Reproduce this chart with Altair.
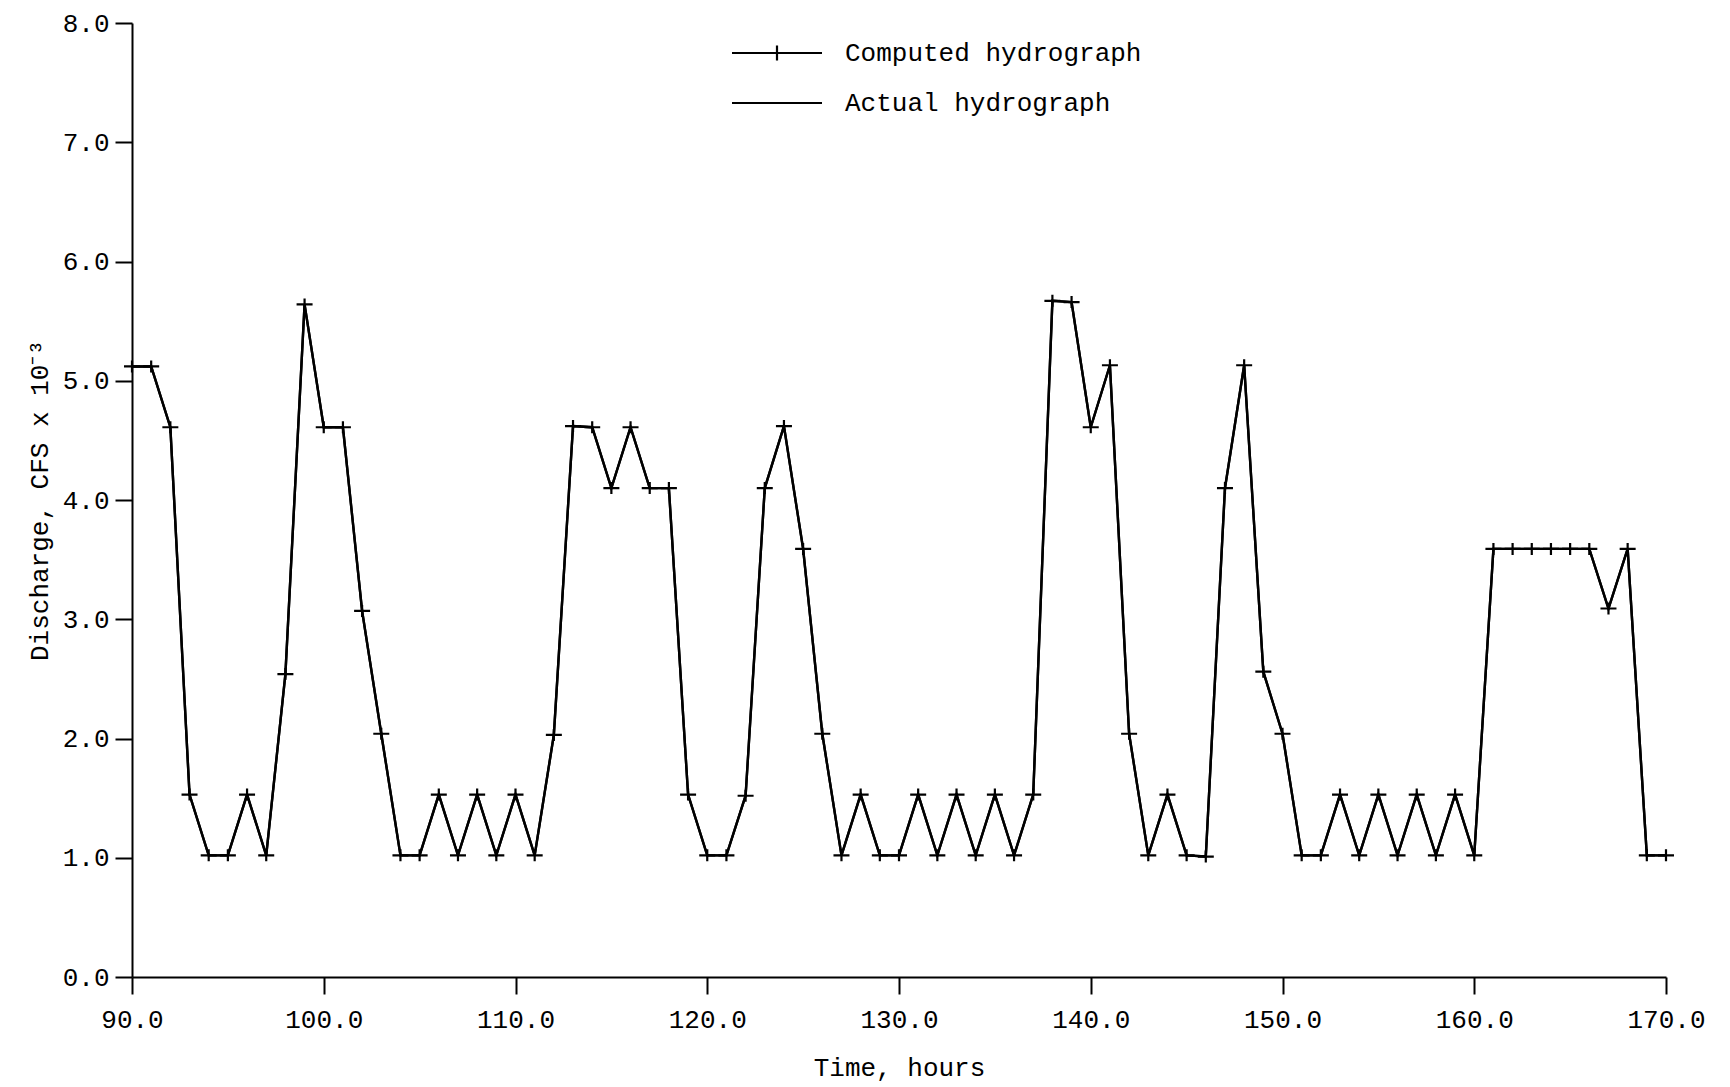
import altair as alt
import pandas as pd

# ---- data ----
hours = list(range(90, 171))

computed = [
    5.12, 5.12, 4.61, 1.53, 1.02, 1.02, 1.53, 1.02, 2.54, 5.64,   # 90-99
    4.61, 4.61, 3.07, 2.04, 1.02, 1.02, 1.53, 1.02, 1.53, 1.02,   # 100-109
    1.53, 1.02, 2.03, 4.62, 4.61, 4.10, 4.61, 4.10, 4.10, 1.53,   # 110-119
    1.02, 1.02, 1.52, 4.10, 4.62, 3.59, 2.04, 1.02, 1.53, 1.02,   # 120-129
    1.02, 1.53, 1.02, 1.53, 1.02, 1.53, 1.02, 1.53, 5.67, 5.66,   # 130-139
    4.61, 5.13, 2.04, 1.02, 1.53, 1.02, 1.01, 4.10, 5.13, 2.56,   # 140-149
    2.04, 1.02, 1.02, 1.53, 1.02, 1.53, 1.02, 1.53, 1.02, 1.53,   # 150-159
    1.02, 3.59, 3.59, 3.59, 3.59, 3.59, 3.59, 3.09, 3.59, 1.02,   # 160-169
    1.02,                                                         # 170
]

actual = [
    5.12, 5.12, 4.61, 1.53, 1.02, 1.02, 1.53, 1.02, 2.54, 5.64,
    4.61, 4.61, 3.07, 2.04, 1.02, 1.02, 1.53, 1.02, 1.53, 1.02,
    1.53, 1.02, 2.03, 4.62, 4.61, 4.10, 4.61, 4.10, 4.10, 1.53,
    1.02, 1.02, 1.52, 4.10, 4.62, 3.59, 2.04, 1.02, 1.53, 1.02,
    1.02, 1.53, 1.02, 1.53, 1.02, 1.53, 1.02, 1.53, 5.67, 5.66,
    4.61, 5.13, 2.04, 1.02, 1.53, 1.02, 1.01, 4.10, 5.13, 2.56,
    2.04, 1.02, 1.02, 1.53, 1.02, 1.53, 1.02, 1.53, 1.02, 1.53,
    1.02, 3.59, 3.59, 3.59, 3.59, 3.59, 3.59, 3.09, 3.59, 1.02,
    1.02,
]

series_names = ["Computed hydrograph", "Actual hydrograph"]
x_ticks = [90, 100, 110, 120, 130, 140, 150, 160, 170]
y_ticks = [0, 1, 2, 3, 4, 5, 6, 7, 8]

df = pd.concat([
    pd.DataFrame({"hour": hours, "q": computed, "series": series_names[0]}),
    pd.DataFrame({"hour": hours, "q": actual, "series": series_names[1]}),
])
df_comp = df[df["series"] == series_names[0]]

FONT = "Liberation Mono"

x_enc = alt.X("hour:Q",
              scale=alt.Scale(domain=[90, 170], nice=False, zero=False),
              axis=alt.Axis(values=x_ticks, format=".1f", title="Time, hours",
                            labelFlush=False,
                            labelPadding=12, titlePadding=22))
y_enc = alt.Y("q:Q",
              scale=alt.Scale(domain=[0, 8], nice=False),
              axis=alt.Axis(values=y_ticks, format=".1f",
                            title="Discharge, CFS x 10\u207b\u00b3",
                            labelFlush=False,
                            labelPadding=6, titlePadding=10))

lines = alt.Chart(df).mark_line(color="black", strokeWidth=2.4).encode(
    x=x_enc, y=y_enc, detail="series:N"
)

markers = alt.Chart(df_comp).mark_point(
    shape="M-1,0H1M0,-0.75V0.75", size=256, strokeWidth=2.2,
    color="black", filled=False, opacity=1
).encode(x="hour:Q", y="q:Q")

legend_layer = alt.Chart(df).mark_point(color="black", opacity=0, filled=False).encode(
    x="hour:Q", y="q:Q",
    shape=alt.Shape("series:N",
                    scale=alt.Scale(domain=series_names,
                                    range=["M-2,0H2M0,-0.33V0.33", "M-2,0H2"]),
                    legend=alt.Legend(title=None, orient="none",
                                      legendX=621, legendY=6,
                                      symbolSize=2025, symbolStrokeWidth=2.2,
                                      symbolStrokeColor="black",
                                      symbolFillColor="transparent",
                                      symbolOpacity=1,
                                      labelOffset=44, rowPadding=13, padding=0,
                                      labelFont=FONT, labelFontSize=26,
                                      labelColor="black", labelLimit=600))
)

chart = alt.layer(lines, markers, legend_layer).properties(
    width=1534, height=954,
    padding={"left": 132, "top": 23, "right": 64, "bottom": 110},
    autosize=alt.AutoSizeParams(type="none"),
    background="white",
).configure_axis(
    grid=False,
    domainColor="black", domainWidth=2,
    tickColor="black", tickWidth=2, tickSize=17,
    labelFont=FONT, labelFontSize=26, labelColor="black",
    titleFont=FONT, titleFontSize=26, titleFontWeight="normal", titleColor="black",
).configure_view(stroke="transparent")

chart.save("out.html", embed_options={"renderer": "svg", "actions": False})
